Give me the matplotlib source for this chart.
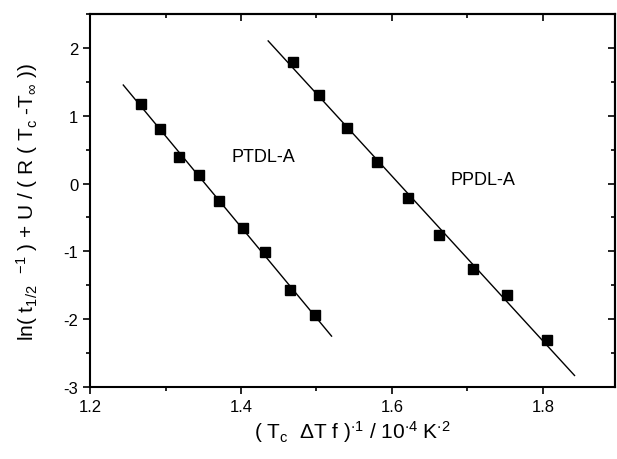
import numpy as np
import matplotlib
matplotlib.use("Agg")
import matplotlib.pyplot as plt
from matplotlib.ticker import MultipleLocator

plt.rcParams['font.family'] = ['Liberation Sans', 'DejaVu Sans']
plt.rcParams['mathtext.default'] = 'regular'
plt.rcParams['axes.unicode_minus'] = False

# PTDL-A points
ptdl_x = [1.268, 1.293, 1.318, 1.344, 1.371, 1.402, 1.432, 1.465, 1.498]
ptdl_y = [1.17, 0.80, 0.39, 0.12, -0.26, -0.66, -1.01, -1.57, -1.94]
ptdl_fit_x = [1.244, 1.52]

# PPDL-A points
ppdl_x = [1.469, 1.504, 1.541, 1.580, 1.621, 1.663, 1.707, 1.752, 1.805]
ppdl_y = [1.79, 1.31, 0.82, 0.32, -0.21, -0.76, -1.26, -1.65, -2.31]
ppdl_fit_x = [1.436, 1.842]

x_ticks = [1.2, 1.4, 1.6, 1.8]
y_ticks = [-3, -2, -1, 0, 1, 2]

fig = plt.figure(figsize=(6.17, 4.60), dpi=100)
ax = fig.add_axes([0.146, 0.157, 0.85, 0.81])

for xs, ys, fx in [(ptdl_x, ptdl_y, ptdl_fit_x), (ppdl_x, ppdl_y, ppdl_fit_x)]:
    k, b = np.polyfit(xs, ys, 1)
    fx = np.array(fx)
    ax.plot(fx, k * fx + b, color='black', lw=1.0)
    ax.plot(xs, ys, 's', color='black', ms=6.5)

ax.text(1.43, 0.40, 'PTDL-A', fontsize=13, ha='center', va='center')
ax.text(1.72, 0.06, 'PPDL-A', fontsize=13, ha='center', va='center')

ax.set_xlim(1.2, 1.895)
ax.set_ylim(-3, 2.5)
ax.set_xticks(x_ticks)
ax.set_yticks(y_ticks)
ax.xaxis.set_minor_locator(MultipleLocator(0.1))
ax.yaxis.set_minor_locator(MultipleLocator(0.5))

for s in ax.spines.values():
    s.set_linewidth(1.5)

ax.tick_params(which='both', direction='out', top=False, right=False, labelsize=12, width=1.2)
ax.tick_params(which='major', length=5)
ax.tick_params(which='minor', length=3)

# inward ticks on top/right
sec_x = ax.secondary_xaxis('top')
sec_x.set_xticks(x_ticks)
sec_x.xaxis.set_minor_locator(MultipleLocator(0.1))
sec_x.tick_params(which='both', direction='in', labeltop=False, width=1.2)
sec_x.tick_params(which='major', length=5)
sec_x.tick_params(which='minor', length=3)
sec_x.spines['top'].set_linewidth(1.5)
sec_y = ax.secondary_yaxis('right')
sec_y.set_yticks(y_ticks)
sec_y.yaxis.set_minor_locator(MultipleLocator(0.5))
sec_y.tick_params(which='both', direction='in', labelright=False, width=1.2)
sec_y.tick_params(which='major', length=5)
sec_y.tick_params(which='minor', length=3)
sec_y.spines['right'].set_linewidth(1.5)

ax.set_xlabel(r'( T$_{c}$  $\Delta$T f )$^{\cdot 1}$ / 10$^{\cdot 4}$ K$^{\cdot 2}$', fontsize=15, labelpad=3)
ax.set_ylabel(r'ln( t$_{1/2}$  $^{-1}$ ) + U / ( R ( T$_{c}$ -T$_{\infty}$ ))', fontsize=15, labelpad=6)
ax.yaxis.set_label_coords(-0.095, 0.5)

fig.savefig('out.png', dpi=100)
